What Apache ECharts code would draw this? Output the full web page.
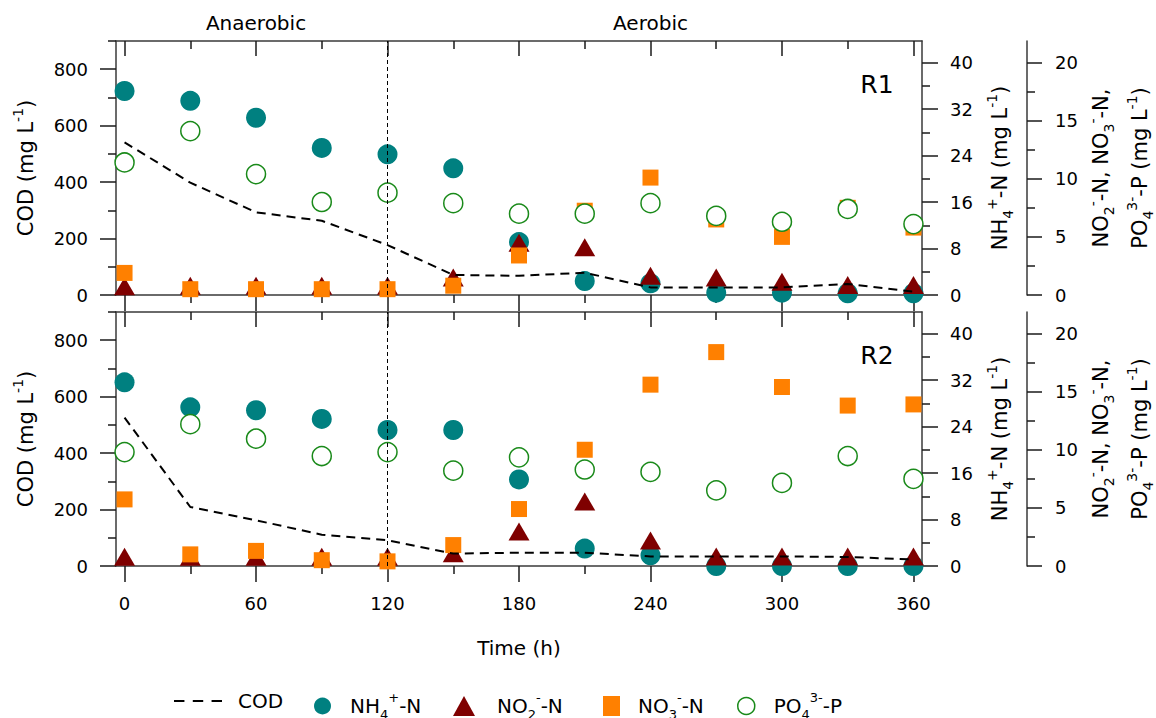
<!DOCTYPE html>
<html><head><meta charset="utf-8">
<script src="https://cdn.jsdelivr.net/npm/echarts@6/dist/echarts.min.js"></script>
<style>html,body{margin:0;padding:0;background:#fff}#c{width:1156px;height:718px}</style>
</head><body><div id="c"></div>
<script>
// ---- data ----
const time = [0, 30, 60, 90, 120, 150, 180, 210, 240, 270, 300, 330, 360];
const codR1 = [541, 398, 293, 263, 177, 71, 68, 79, 27, 27, 27, 39, 12];
const nh4R1 = [35.1, 33.4, 30.5, 25.3, 24.2, 21.8, 9.1, 2.4, 2.0, 0.4, 0.4, 0.3, 0.3];
const no2R1 = [0.75, 0.8, 0.8, 0.8, 0.8, 1.5, 4.5, 4.1, 1.65, 1.5, 1.15, 0.85, 0.85];
const no3R1 = [1.9, 0.5, 0.5, 0.5, 0.5, 0.8, 3.4, 7.25, 10.1, 6.5, 5.0, 7.5, 5.8];
const po4R1 = [11.4, 14.1, 10.4, 8.0, 8.8, 7.9, 7.0, 7.0, 7.9, 6.8, 6.3, 7.4, 6.1];
const codR2 = [526, 209, 162, 111, 91, 44, 47, 47, 34, 34, 34, 32, 23];
const nh4R2 = [31.6, 27.3, 26.8, 25.3, 23.4, 23.4, 14.9, 3.0, 1.85, 0, 0, 0, 0];
const no2R2 = [0.8, 0.8, 0.8, 0.8, 0.8, 1.1, 2.96, 5.55, 2.2, 0.82, 0.82, 0.82, 0.82];
const no3R2 = [5.73, 1.0, 1.3, 0.5, 0.4, 1.8, 4.9, 10.0, 15.6, 18.4, 15.4, 13.8, 13.9];
const po4R2 = [9.8, 12.2, 10.95, 9.46, 9.8, 8.2, 9.35, 8.3, 8.1, 6.5, 7.15, 9.46, 7.5];
const panelNames = ['R1', 'R2'];
const phaseNames = ['Anaerobic', 'Aerobic'];
const phaseCenters = [60, 240];
const phaseBoundary = 120;
// ---- tick labels ----
const xMajor = [0, 60, 120, 180, 240, 300, 360];
const xMinor = [30, 90, 150, 210, 270, 330];
const codMajor = [0, 200, 400, 600, 800];
const codMinor = [100, 300, 500, 700, 900];
const nh4Major = [0, 8, 16, 24, 32, 40];
const nh4Minor = [4, 12, 20, 28, 36];
const nMajor = [0, 5, 10, 15, 20];
const nMinor = [2.5, 7.5, 12.5, 17.5];
const seriesNames = ['COD', 'NH4+-N', 'NO2--N', 'NO3--N', 'PO43--P'];

// ---- style ----
const F = 'DejaVu Sans';
const AX = '#3a3a3a', TK = '#1a1a1a';
const X_MIN = -3.9, X_MAX = 363.9, COD_MAX = 900, NH4_MAX = 43.7, N_MAX = 21.85;
const rich = {
  t: {fontSize: 21, fontFamily: F, lineHeight: 30, verticalAlign: 'middle', color: '#000', fill: '#000'},
  sup: {fontSize: 14, fontFamily: F, lineHeight: 14, verticalAlign: 'top', color: '#000', fill: '#000'},
  sub: {fontSize: 14, fontFamily: F, lineHeight: 14, verticalAlign: 'bottom', color: '#000', fill: '#000'}
};
const legRich = {
  t: {fontSize: 20, fontFamily: F, lineHeight: 30, verticalAlign: 'middle', color: '#000'},
  sup: {fontSize: 13, fontFamily: F, lineHeight: 13, verticalAlign: 'top', color: '#000'},
  sub: {fontSize: 13, fontFamily: F, lineHeight: 13, verticalAlign: 'bottom', color: '#000'}
};
const legendRich = {
  'COD': '{t|COD}',
  'NH4+-N': '{t|NH}{sub|4}{sup|+}{t|-N}',
  'NO2--N': '{t|NO}{sub|2}{sup|-}{t|-N}',
  'NO3--N': '{t|NO}{sub|3}{sup|-}{t|-N}',
  'PO43--P': '{t|PO}{sub|4}{sup|3-}{t|-P}'
};
const names = {
  cod: '{t|COD (mg L}{sup|-1}{t|)}',
  nh4: '{t|NH}{sub|4}{sup|+}{t|-N (mg L}{sup|-1}{t|)}',
  n1: '{t|NO}{sub|2}{sup|-}{t|-N, NO}{sub|3}{sup|-}{t|-N,}',
  n2: '{t|PO}{sub|4}{sup|3-}{t|-P (mg L}{sup|-1}{t|)}'
};
const lineS = {color: AX, width: 1.5};
const tickS = {color: TK, width: 1.5};
const dashIcon = 'path://M0,0h10v2h-10z M18,0h10v2h-10z M36,0h10v2h-10z';
const lbl = () => ({fontSize: 18, fontFamily: F, color: '#000'});

const grids = [
  {left: 116, top: 41, width: 806, height: 254},
  {left: 116, top: 312, width: 806, height: 254}
];
function xAxes(g) {
  const b = {type: 'value', gridIndex: g, min: X_MIN, max: X_MAX, splitLine: {show: false}};
  return [
    Object.assign({}, b, {position: 'bottom',
      axisLine: {show: true, onZero: false, lineStyle: lineS},
      axisTick: {show: true, inside: false, length: 16, customValues: xMajor, lineStyle: tickS},
      axisLabel: Object.assign({show: g === 1, customValues: xMajor, margin: 28}, lbl()),
      name: g === 1 ? 'Time (h)' : '', nameLocation: 'middle', nameGap: 72,
      nameTextStyle: {fontSize: 20, fontFamily: F, color: '#000'}}),
    Object.assign({}, b, {position: 'bottom',
      axisLine: {show: false, onZero: false},
      axisTick: {show: true, inside: false, length: 8, customValues: xMinor, lineStyle: tickS},
      axisLabel: {show: false}}),
    Object.assign({}, b, {position: 'top',
      axisLine: {show: true, onZero: false, lineStyle: lineS},
      axisTick: {show: true, inside: true, length: 15, customValues: xMajor, lineStyle: tickS},
      axisLabel: {show: g === 0, customValues: phaseCenters, margin: 8, fontSize: 20, fontFamily: F, color: '#000',
        formatter: x => phaseNames[phaseCenters.indexOf(x)] || ''}}),
    Object.assign({}, b, {position: 'top',
      axisLine: {show: false, onZero: false},
      axisTick: {show: true, inside: true, length: 8, customValues: xMinor, lineStyle: tickS},
      axisLabel: {show: false}})
  ];
}
function yPair(g, pos, offset, max, major, minor, majLen) {
  const b = {type: 'value', gridIndex: g, position: pos, offset: offset, min: 0, max: max, splitLine: {show: false}};
  return [
    Object.assign({}, b, {
      axisLine: {show: true, onZero: false, lineStyle: lineS},
      axisTick: {show: true, inside: false, length: majLen, customValues: major, lineStyle: tickS},
      axisLabel: Object.assign({show: true, customValues: major, margin: 28}, lbl())}),
    Object.assign({}, b, {
      axisLine: {show: false, onZero: false},
      axisTick: {show: true, inside: false, length: 8, customValues: minor, lineStyle: tickS},
      axisLabel: {show: false}})
  ];
}
const yAxes = g => [].concat(
  yPair(g, 'left', 0, COD_MAX, codMajor, codMinor, 16),
  yPair(g, 'right', 0, NH4_MAX, nh4Major, nh4Minor, 16),
  yPair(g, 'right', 105, N_MAX, nMajor, nMinor, 15));
const pts = arr => time.map((t, i) => [t, arr[i]]);
function panelSeries(g, d) {
  const xi = g * 4, yb = g * 6;
  const common = {type: 'scatter', xAxisIndex: xi, clip: false, silent: true};
  return [
    {name: seriesNames[0], type: 'line', xAxisIndex: xi, yAxisIndex: yb, data: pts(d.cod), symbol: 'none',
      showSymbol: false, silent: true, lineStyle: {color: '#000', width: 2, type: [9, 6]}, itemStyle: {color: '#000'},
      markLine: {silent: true, symbol: ['none', 'none'], label: {show: false}, animation: false,
        lineStyle: {color: '#000', width: 1, type: [4, 3]}, data: [{xAxis: phaseBoundary}]}},
    Object.assign({}, common, {name: seriesNames[1], yAxisIndex: yb + 2, data: pts(d.nh4), symbol: 'circle',
      symbolSize: 20, itemStyle: {color: '#008080', opacity: 1}}),
    Object.assign({}, common, {name: seriesNames[2], yAxisIndex: yb + 4, data: pts(d.no2), symbol: 'triangle',
      symbolSize: [21, 18], itemStyle: {color: '#7f0000', opacity: 1}}),
    Object.assign({}, common, {name: seriesNames[3], yAxisIndex: yb + 4, data: pts(d.no3), symbol: 'rect',
      symbolSize: 16, itemStyle: {color: '#ff8000', opacity: 1}}),
    Object.assign({}, common, {name: seriesNames[4], yAxisIndex: yb + 4, data: pts(d.po4), symbol: 'circle',
      symbolSize: 19, itemStyle: {color: '#ffffff', borderColor: '#1a8a1a', borderWidth: 1.5, opacity: 1}})
  ];
}
function legend(item, left, w, pad, extra) {
  return Object.assign({data: [item], left: left, top: 691, orient: 'horizontal', padding: 0, itemGap: 0,
    itemWidth: w, itemHeight: 20, selectedMode: false, formatter: n => legendRich[n],
    textStyle: {fontSize: 20, fontFamily: F, color: '#000', padding: [0, 0, 0, pad], rich: legRich}}, extra || {});
}
function vText(x, y, text) {
  return {type: 'text', x: x, y: y, rotation: Math.PI / 2, silent: true, z: 100,
    style: {text: text, rich: rich, align: 'center', verticalAlign: 'middle', textAlign: 'center',
      textVerticalAlign: 'middle', fill: '#000', fontSize: 21, fontFamily: F}};
}
const graphics = [];
[168, 439].forEach((cy, g) => {
  graphics.push(vText(26, cy, names.cod));
  graphics.push(vText(1000, cy, names.nh4));
  graphics.push(vText(1101, cy, names.n1));
  graphics.push(vText(1140, cy, names.n2));
  graphics.push({type: 'text', x: 877, y: cy - 84, silent: true, z: 100,
    style: {text: panelNames[g], fontSize: 25, fontFamily: F, fill: '#000', align: 'center', verticalAlign: 'middle',
      textAlign: 'center', textVerticalAlign: 'middle'}});
});
const option = {
  animation: false,
  backgroundColor: '#fff',
  grid: grids,
  xAxis: [].concat(xAxes(0), xAxes(1)),
  yAxis: [].concat(yAxes(0), yAxes(1)),
  legend: [
    legend({name: 'COD', icon: dashIcon}, 174, 48, 11, {itemStyle: {color: '#000'}}),
    legend('NH4+-N', 314, 17, 14),
    legend('NO2--N', 453, 22, 17),
    legend('NO3--N', 603, 17, 13),
    legend('PO43--P', 737, 17, 14, {itemStyle: {borderWidth: 1.5}})
  ],
  series: [].concat(
    panelSeries(0, {cod: codR1, nh4: nh4R1, no2: no2R1, no3: no3R1, po4: po4R1}),
    panelSeries(1, {cod: codR2, nh4: nh4R2, no2: no2R2, no3: no3R2, po4: po4R2})),
  graphic: graphics
};
const chart = echarts.init(document.getElementById('c'), null, {renderer: 'svg'});
chart.setOption(option);
</script></body></html>
